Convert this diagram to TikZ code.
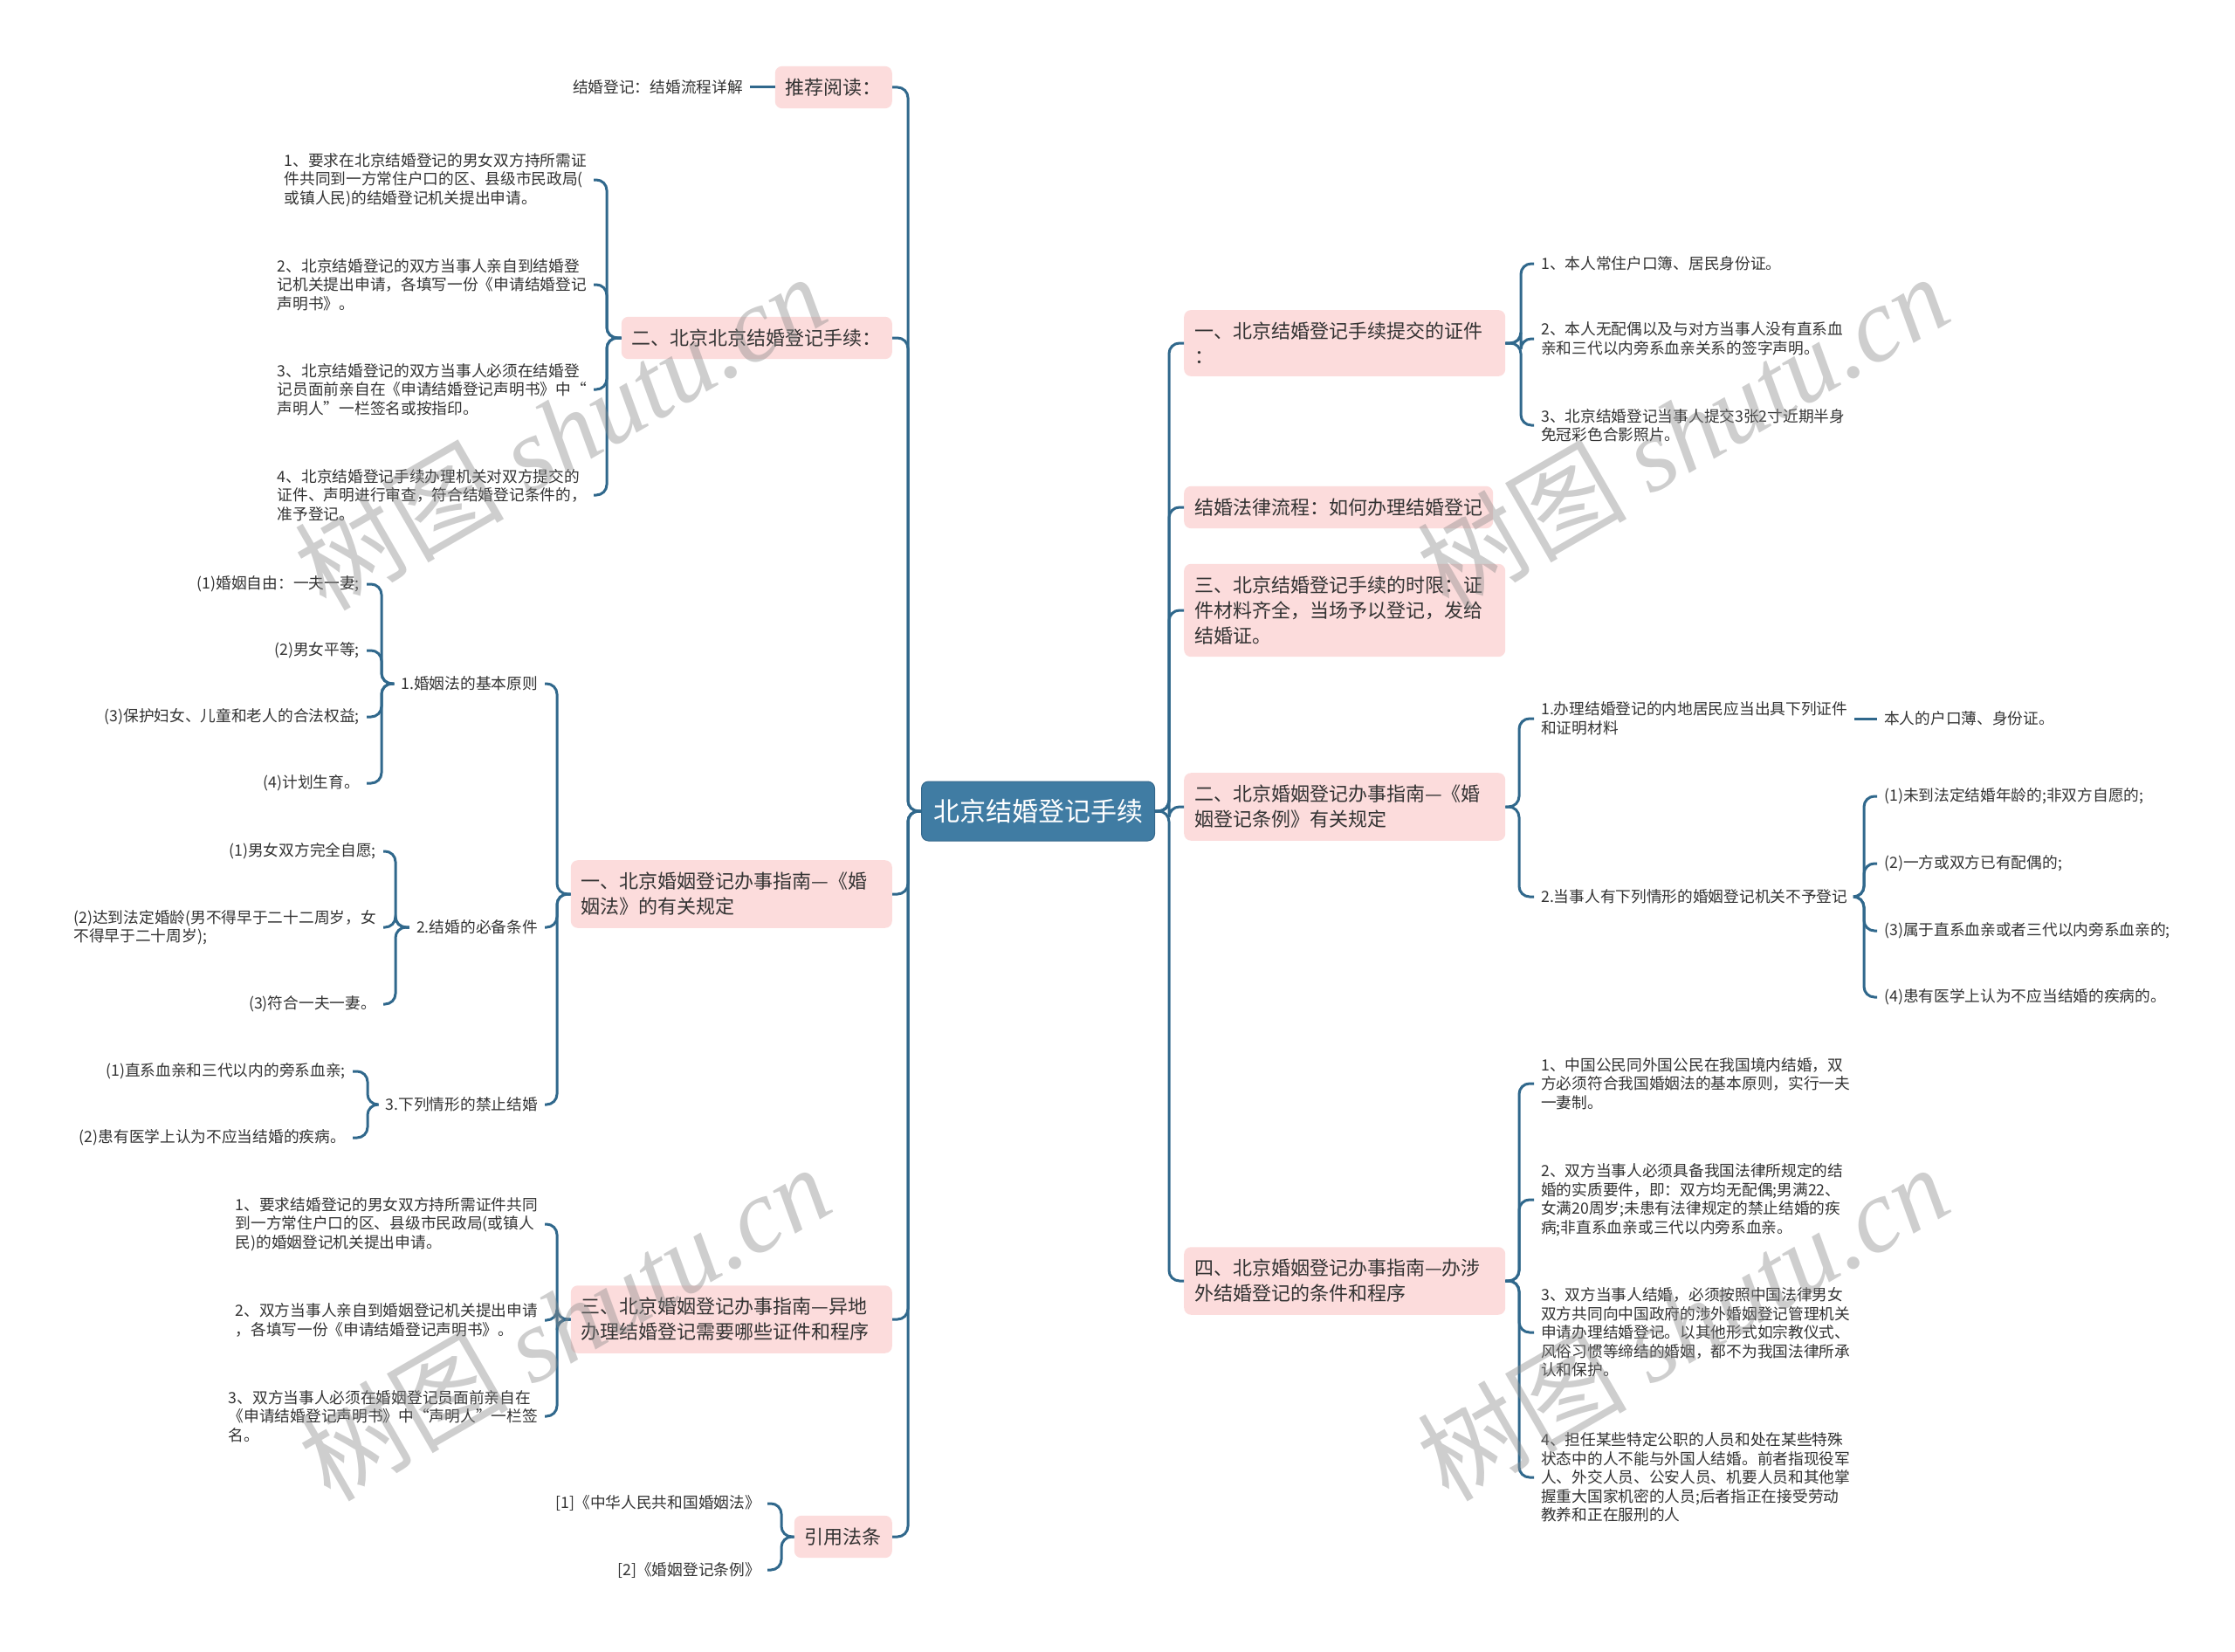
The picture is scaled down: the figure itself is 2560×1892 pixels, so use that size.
\documentclass[tikz,border=0pt]{standalone}
\usepackage{fontspec}
\setmainfont{Noto Sans CJK SC}
\newfontfamily\wmlat{Liberation Serif}
\definecolor{linec}{RGB}{48,104,140}
\definecolor{pinkc}{RGB}{252,220,220}
\definecolor{rootc}{RGB}{64,124,163}
\definecolor{rootedge}{RGB}{52,104,140}
\definecolor{txtc}{RGB}{51,51,51}
\definecolor{wmc}{RGB}{140,140,140}
\begin{document}
\begin{tikzpicture}[x=1pt,y=-1pt,
  conn/.style={draw=linec, line width=3pt, rounded corners=12pt},
  mainbox/.style={fill=pinkc, rounded corners=8pt, inner xsep=12pt, inner ysep=14pt, text=txtc, font=\fontsize{22}{29}\selectfont, align=left},
  widebox/.style={mainbox, text width=344pt},
  leafl/.style={anchor=east, inner xsep=8pt, inner ysep=2pt, text=txtc, font=\fontsize{17.7}{21.5}\selectfont, align=left},
  leafr/.style={leafl, anchor=west},
  rootbox/.style={fill=rootc, draw=rootedge, line width=1pt, rounded corners=8pt, text=white, minimum width=267pt, minimum height=68pt, inner sep=0pt, font=\fontsize{30}{36}\selectfont},
  wm/.style={text=wmc, text opacity=0.42, rotate=30, inner sep=0pt, font=\fontsize{120}{120}\selectfont}
]
\fill[white] (0,0) rectangle (2560,1892);
\useasboundingbox (0,0) rectangle (2560,1892);

% spine coordinates
\coordinate (ls) at (1040,0);
\coordinate (rs) at (1339,0);
\coordinate (bs) at (695,0);
\coordinate (cs) at (638,0);
\coordinate (ds) at (638,0);
\coordinate (es) at (895,0);
\coordinate (c1s) at (437,0);
\coordinate (c2s) at (453,0);
\coordinate (c3s) at (421,0);
\coordinate (r1s) at (1742,0);
\coordinate (r4s) at (1740,0);
\coordinate (r5s) at (1740,0);
\coordinate (r4bs) at (2135,0);

% root
\node[rootbox] (root) at (1189,929) {北京结婚登记手续};

% left main nodes
\node[mainbox, anchor=east] (A) at (1022,100) {推荐阅读：};
\node[mainbox, anchor=east] (B) at (1022,387) {二、北京北京结婚登记手续：};
\node[widebox, anchor=east] (C) at (1022,1024) {一、北京婚姻登记办事指南—《婚\\姻法》的有关规定};
\node[widebox, anchor=east] (D) at (1022,1511) {三、北京婚姻登记办事指南—异地\\办理结婚登记需要哪些证件和程序};
\node[mainbox, anchor=east] (E) at (1022,1760) {引用法条};

% right main nodes
\node[widebox, anchor=west] (R1) at (1356,393) {一、北京结婚登记手续提交的证件\\：};
\node[mainbox, anchor=west] (R2) at (1356,581) {结婚法律流程：如何办理结婚登记};
\node[widebox, anchor=west] (R3) at (1356,699) {三、北京结婚登记手续的时限：证\\件材料齐全，当场予以登记，发给\\结婚证。};
\node[widebox, anchor=west] (R4) at (1356,924) {二、北京婚姻登记办事指南—《婚\\姻登记条例》有关规定};
\node[widebox, anchor=west] (R5) at (1356,1467) {四、北京婚姻登记办事指南—办涉\\外结婚登记的条件和程序};

% A leaf
\node[leafl] (A1) at (859,100) {结婚登记：结婚流程详解};

% B leaves
\node[leafl] (B1) at (680,206) {1、要求在北京结婚登记的男女双方持所需证\\件共同到一方常住户口的区、县级市民政局(\\或镇人民)的结婚登记机关提出申请。};
\node[leafl] (B2) at (680,326) {2、北京结婚登记的双方当事人亲自到结婚登\\记机关提出申请，各填写一份《申请结婚登记\\声明书》。};
\node[leafl] (B3) at (680,446) {3、北京结婚登记的双方当事人必须在结婚登\\记员面前亲自在《申请结婚登记声明书》中“\\声明人”一栏签名或按指印。};
\node[leafl] (B4) at (680,567) {4、北京结婚登记手续办理机关对双方提交的\\证件、声明进行审查，符合结婚登记条件的，\\准予登记。};

% C children
\node[leafl] (C1) at (624,783) {1.婚姻法的基本原则};
\node[leafl] (C2) at (624,1062) {2.结婚的必备条件};
\node[leafl] (C3) at (624,1265) {3.下列情形的禁止结婚};
\node[leafl] (C1a) at (420,669) {(1)婚姻自由：一夫一妻;};
\node[leafl] (C1b) at (420,745) {(2)男女平等;};
\node[leafl] (C1c) at (420,821) {(3)保护妇女、儿童和老人的合法权益;};
\node[leafl] (C1d) at (420,897) {(4)计划生育。};
\node[leafl] (C2a) at (439,975) {(1)男女双方完全自愿;};
\node[leafl] (C2b) at (439,1062) {(2)达到法定婚龄(男不得早于二十二周岁，女\\不得早于二十周岁);};
\node[leafl] (C2c) at (439,1150) {(3)符合一夫一妻。};
\node[leafl] (C3a) at (404,1227) {(1)直系血亲和三代以内的旁系血亲;};
\node[leafl] (C3b) at (404,1303) {(2)患有医学上认为不应当结婚的疾病。};

% D leaves
\node[leafl] (D1) at (624,1402) {1、要求结婚登记的男女双方持所需证件共同\\到一方常住户口的区、县级市民政局(或镇人\\民)的婚姻登记机关提出申请。};
\node[leafl] (D2) at (624,1512) {2、双方当事人亲自到婚姻登记机关提出申请\\，各填写一份《申请结婚登记声明书》。};
\node[leafl] (D3) at (624,1622) {3、双方当事人必须在婚姻登记员面前亲自在\\《申请结婚登记声明书》中“声明人”一栏签\\名。};

% E leaves
\node[leafl] (E1) at (879,1722) {[1]《中华人民共和国婚姻法》};
\node[leafl] (E2) at (879,1798) {[2]《婚姻登记条例》};

% R1 leaves
\node[leafr] (R1a) at (1757,302) {1、本人常住户口簿、居民身份证。};
\node[leafr] (R1b) at (1757,388) {2、本人无配偶以及与对方当事人没有直系血\\亲和三代以内旁系血亲关系的签字声明。};
\node[leafr] (R1c) at (1757,487) {3、北京结婚登记当事人提交3张2寸近期半身\\免冠彩色合影照片。};

% R4 children
\node[leafr] (R4a) at (1757,823) {1.办理结婚登记的内地居民应当出具下列证件\\和证明材料};
\node[leafr] (R4a1) at (2150,823) {本人的户口薄、身份证。};
\node[leafr] (R4b) at (1757,1027) {2.当事人有下列情形的婚姻登记机关不予登记};
\node[leafr] (R4b1) at (2150,912) {(1)未到法定结婚年龄的;非双方自愿的;};
\node[leafr] (R4b2) at (2150,989) {(2)一方或双方已有配偶的;};
\node[leafr] (R4b3) at (2150,1066) {(3)属于直系血亲或者三代以内旁系血亲的;};
\node[leafr] (R4b4) at (2150,1142) {(4)患有医学上认为不应当结婚的疾病的。};

% R5 leaves
\node[leafr] (R5a) at (1757,1241) {1、中国公民同外国公民在我国境内结婚，双\\方必须符合我国婚姻法的基本原则，实行一夫\\一妻制。};
\node[leafr] (R5b) at (1757,1374) {2、双方当事人必须具备我国法律所规定的结\\婚的实质要件，即：双方均无配偶;男满22、\\女满20周岁;未患有法律规定的禁止结婚的疾\\病;非直系血亲或三代以内旁系血亲。};
\node[leafr] (R5c) at (1757,1526) {3、双方当事人结婚，必须按照中国法律男女\\双方共同向中国政府的涉外婚姻登记管理机关\\申请办理结婚登记。以其他形式如宗教仪式、\\风俗习惯等缔结的婚姻，都不为我国法律所承\\认和保护。};
\node[leafr] (R5d) at (1757,1692) {4、担任某些特定公职的人员和处在某些特殊\\状态中的人不能与外国人结婚。前者指现役军\\人、外交人员、公安人员、机要人员和其他掌\\握重大国家机密的人员;后者指正在接受劳动\\教养和正在服刑的人};

% connectors: root to main
\foreach \m in {A,B,C,D,E}
  \draw[conn] (root.west) -- (root.west -| ls) |- (\m.east);
\foreach \m in {R1,R2,R3,R4,R5}
  \draw[conn] (root.east) -- (root.east -| rs) |- (\m.west);

% left sub connectors
\draw[conn] (A.west) -- (A1.east);
\foreach \c in {B1,B2,B3,B4}
  \draw[conn] (B.west) -- (B.west -| bs) |- (\c.east);
\foreach \c in {C1,C2,C3}
  \draw[conn] (C.west) -- (C.west -| cs) |- (\c.east);
\foreach \c in {C1a,C1b,C1c,C1d}
  \draw[conn] (C1.west) -- (C1.west -| c1s) |- (\c.east);
\foreach \c in {C2a,C2b,C2c}
  \draw[conn] (C2.west) -- (C2.west -| c2s) |- (\c.east);
\foreach \c in {C3a,C3b}
  \draw[conn] (C3.west) -- (C3.west -| c3s) |- (\c.east);
\foreach \c in {D1,D2,D3}
  \draw[conn] (D.west) -- (D.west -| ds) |- (\c.east);
\foreach \c in {E1,E2}
  \draw[conn] (E.west) -- (E.west -| es) |- (\c.east);

% right sub connectors
\foreach \c in {R1a,R1b,R1c}
  \draw[conn] (R1.east) -- (R1.east -| r1s) |- (\c.west);
\foreach \c in {R4a,R4b}
  \draw[conn] (R4.east) -- (R4.east -| r4s) |- (\c.west);
\draw[conn] (R4a.east) -- (R4a1.west);
\foreach \c in {R4b1,R4b2,R4b3,R4b4}
  \draw[conn] (R4b.east) -- (R4b.east -| r4bs) |- (\c.west);
\foreach \c in {R5a,R5b,R5c,R5d}
  \draw[conn] (R5.east) -- (R5.east -| r5s) |- (\c.west);

% watermarks
\node[wm] (w1) at (641,494) {树图 {\wmlat\itshape shutu.cn}};
\node[wm] (w2) at (646,1514) {树图 {\wmlat\itshape shutu.cn}};
\node[wm] (w3) at (1927,494) {树图 {\wmlat\itshape shutu.cn}};
\node[wm] (w4) at (1927,1514) {树图 {\wmlat\itshape shutu.cn}};
\end{tikzpicture}
\end{document}
